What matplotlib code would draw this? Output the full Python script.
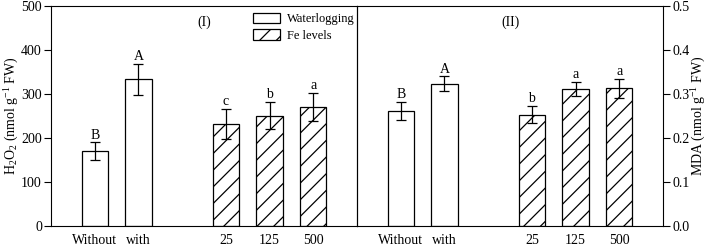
import matplotlib
matplotlib.use("Agg")
import matplotlib.pyplot as plt
from matplotlib.patches import Patch

plt.rcParams['font.family'] = ['Liberation Serif', 'DejaVu Serif']
plt.rcParams['mathtext.fontset'] = 'custom'
plt.rcParams['mathtext.rm'] = 'Liberation Serif'
plt.rcParams['mathtext.it'] = 'Liberation Serif:italic'
plt.rcParams['hatch.linewidth'] = 0.9

categories = ["Without", "with", "25", "125", "500"]
positions = [1, 2, 4, 5, 6]
hatched = [False, False, True, True, True]

h2o2 = [170, 333, 232, 251, 271]
h2o2_err = [20, 35, 35, 30, 32]
h2o2_letters = ["B", "A", "c", "b", "a"]

mda = [0.262, 0.323, 0.253, 0.311, 0.313]
mda_err = [0.020, 0.017, 0.020, 0.016, 0.022]
mda_letters = ["B", "A", "b", "a", "a"]

fig = plt.figure(figsize=(7.09, 2.46), dpi=100)
ax1 = fig.add_axes([51/709, 20/246, 306/709, 220/246])
ax2 = fig.add_axes([357/709, 20/246, 306/709, 220/246])
ax1.set_zorder(3)
ax1.patch.set_visible(False)

HATCH = '//'

def draw(ax, vals, errs, letters, ymax, off):
    for p, v, e, h, l in zip(positions, vals, errs, hatched, letters):
        ax.bar(p, v, width=0.6, color='white', edgecolor='black', linewidth=0.9,
               hatch=HATCH if h else None, zorder=2)
        ax.errorbar(p, v, yerr=e, fmt='none', ecolor='black', elinewidth=0.9,
                    capsize=3.5, capthick=0.9, zorder=3)
        ax.text(p, v + e + off, l, ha='center', va='bottom', fontsize=10)
    ax.set_xlim(0, 7)
    ax.set_ylim(0, ymax)
    ax.set_xticks(positions)
    ax.set_xticklabels(categories, fontsize=10)
    ax.tick_params(axis='x', length=0, pad=6)
    for s in ax.spines.values():
        s.set_linewidth(0.8)

draw(ax1, h2o2, h2o2_err, h2o2_letters, 500, 2)
ax1.set_yticks([0, 100, 200, 300, 400, 500])
ax1.tick_params(axis='y', direction='out', length=5, pad=1.5, labelsize=10, width=0.8)
ax1.set_ylabel("H$_2$O$_2$ (nmol g$^{-1}$ FW)", fontsize=10, va='center')
ax1.yaxis.set_label_coords(-0.127, 0.5)
ax1.text(0.5, 0.955, "(I)", transform=ax1.transAxes, ha='center', va='top', fontsize=10)

draw(ax2, mda, mda_err, mda_letters, 0.5, 0.002)
ax2.yaxis.tick_right()
ax2.yaxis.set_label_position('right')
ax2.set_yticks([0.0, 0.1, 0.2, 0.3, 0.4, 0.5])
ax2.set_yticklabels(["0.0", "0.1", "0.2", "0.3", "0.4", "0.5"])
ax2.tick_params(axis='y', direction='out', length=5, pad=2, labelsize=10, width=0.8)
ax2.set_ylabel("MDA (nmol g$^{-1}$ FW)", fontsize=10, rotation=90, va='center')
ax2.yaxis.set_label_coords(1.117, 0.5)
ax2.text(0.5, 0.955, "(II)", transform=ax2.transAxes, ha='center', va='top', fontsize=10)

handles = [Patch(facecolor='white', edgecolor='black', linewidth=0.9, label='Waterlogging'),
           Patch(facecolor='white', edgecolor='black', linewidth=0.9, hatch=HATCH, label='Fe levels')]
ax1.legend(handles=handles, loc='upper left', bbox_to_anchor=(0.66, 0.97), frameon=False,
           fontsize=9, handlelength=2.15, handleheight=0.9, handletextpad=0.55,
           labelspacing=0.35, borderaxespad=0, borderpad=0)

fig.savefig("out.png", dpi=100)
